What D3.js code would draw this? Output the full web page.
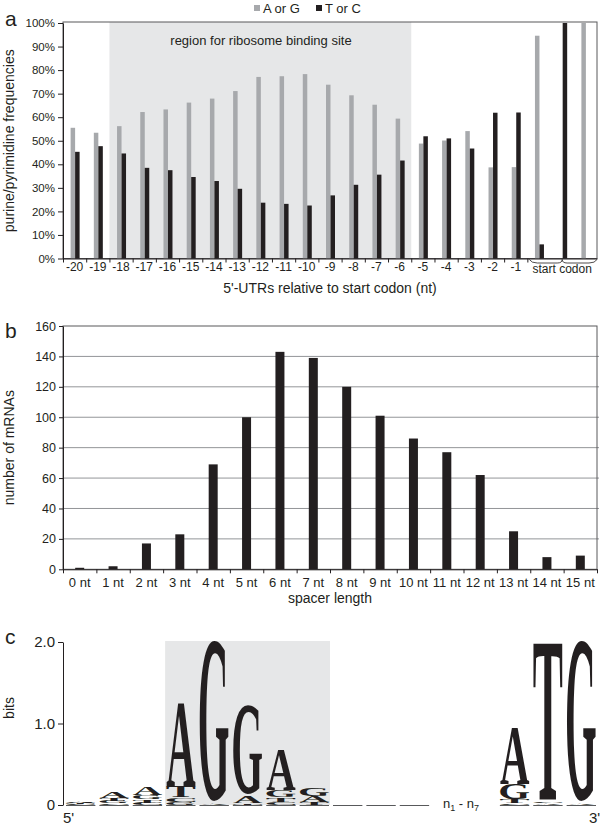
<!DOCTYPE html>
<html>
<head>
<meta charset="utf-8">
<script src="https://cdn.jsdelivr.net/npm/d3@7"></script>
<style>
body{margin:0;background:#fff;}
svg text{font-family:"Liberation Sans",Arial,sans-serif;fill:#231f20;}
</style>
</head>
<body>
<svg id="fig" width="600" height="829"></svg>
<script>
// ---- panel a data: purine / pyrimidine frequencies (%) per position
var positions = ["-20","-19","-18","-17","-16","-15","-14","-13","-12","-11","-10",
  "-9","-8","-7","-6","-5","-4","-3","-2","-1","s1","s2","s3"]
var posLabels = ["-20","-19","-18","-17","-16","-15","-14","-13","-12","-11","-10",
  "-9","-8","-7","-6","-5","-4","-3","-2","-1","","",""]
var purineAG = [55.5,53.4,56.2,62.2,63.3,66.2,67.9,71.1,77.1,77.4,78.3,
  73.8,69.3,65.3,59.4,48.8,50.1,54.1,38.7,38.8,94.6,0,100]
var pyrimidineTC = [45.3,47.7,44.6,38.5,37.5,34.6,32.9,29.6,23.7,23.2,22.5,
  26.8,31.3,35.6,41.6,51.9,51,46.7,61.9,62,6,100,0]
var pctTicks = [0,10,20,30,40,50,60,70,80,90,100]

// ---- panel b data: spacer length distribution
var spacerLengths = ["0 nt","1 nt","2 nt","3 nt","4 nt","5 nt","6 nt","7 nt",
  "8 nt","9 nt","10 nt","11 nt","12 nt","13 nt","14 nt","15 nt"]
var mrnaCounts = [1,2,17,23,69,100,143,139,120,101,86,77,62,25,8,9]
var countTicks = [0,20,40,60,80,100,120,140,160]

// ---- panel c data: sequence logo, letters bottom -> top, heights in bits
var logoColumns = [0,1,2,3,4,5,6,7,8,9,10,11,12,13,14,15]
var logoStacks = [
  [["C",0.01],["T",0.01],["G",0.01],["A",0.02]],
  [["C",0.02],["G",0.03],["T",0.04],["A",0.06]],
  [["C",0.03],["T",0.04],["G",0.05],["A",0.1]],
  [["G",0.04],["C",0.05],["T",0.14],["A",1.02]],
  [["A",0.01],["G",1.98]],
  [["T",0.02],["A",0.09],["G",1.09]],
  [["C",0.04],["T",0.05],["G",0.09],["A",0.5]],
  [["T",0.04],["A",0.07],["G",0.11]],
  [],[],[],null,null,
  [["C",0.02],["T",0.05],["G",0.19],["A",0.68]],
  [["A",0.02],["C",0.02],["T",1.93]],
  [["A",0.01],["G",1.98]]
]
var bitTicks = [0,1,2]

var svg = d3.select("#fig")
var ink = "#231f20", lightGrey = "#a7a9ac", shade = "#e6e7e8"
var left = 63, right = 597

var styleAxis = function(g, size)
{
  g.attr("font-family", "Liberation Sans, Arial, sans-serif")
   .attr("font-size", size)
  g.selectAll("path,line").attr("stroke", ink)
  g.selectAll("text").attr("fill", ink)
}

// ================= panel a =================
var drawPanelA = function()
{
  var top = 23, bottom = 258.5
  var xA = d3.scaleBand().domain(positions).range([left, right])
  var xIdx = d3.scaleLinear().domain([0, positions.length]).range([left, right])
  var yA = d3.scaleLinear().domain([0, 100]).range([bottom, top])

  svg.append("rect")
    .attr("x", xA("-18")).attr("y", top - 1)
    .attr("width", xA("-5") - xA("-18")).attr("height", bottom - top + 1)
    .attr("fill", shade)

  svg.append("rect")
    .attr("x", left).attr("y", top - 1)
    .attr("width", right - left).attr("height", bottom - top + 1)
    .attr("fill", "none").attr("stroke", "#58595b").attr("stroke-width", 1)

  svg.append("text").text("region for ribosome binding site")
    .attr("x", 261).attr("y", 45).attr("text-anchor", "middle")
    .attr("font-size", 13)

  var g = svg.append("g")
  g.selectAll(".ag").data(purineAG).enter().append("rect")
    .attr("x", function(d, i) { return xA(positions[i]) + xA.bandwidth()/2 - 4 })
    .attr("width", 4.5)
    .attr("y", function(d) { return yA(d) })
    .attr("height", function(d) { return bottom - yA(d) })
    .attr("fill", lightGrey)
  g.selectAll(".tc").data(pyrimidineTC).enter().append("rect")
    .attr("x", function(d, i) { return xA(positions[i]) + xA.bandwidth()/2 + 0.5 })
    .attr("width", 4.5)
    .attr("y", function(d) { return yA(d) })
    .attr("height", function(d) { return bottom - yA(d) })
    .attr("fill", ink)

  var ya = svg.append("g")
    .attr("transform", "translate(" + left + ",0)")
    .call(d3.axisLeft(yA).tickValues(pctTicks)
      .tickFormat(function(d) { return d + "%" }).tickSize(5).tickSizeOuter(0))
  styleAxis(ya, 11.5)

  var xt = svg.append("g")
    .attr("transform", "translate(0," + bottom + ")")
    .call(d3.axisBottom(xIdx).tickValues(d3.range(0, 21)).tickSize(4)
      .tickFormat("").tickSizeOuter(0))
  styleAxis(xt, 12)

  var xl = svg.append("g")
    .attr("transform", "translate(0," + bottom + ")")
    .call(d3.axisBottom(xA).tickSize(0)
      .tickFormat(function(d, i) { return posLabels[i] }))
  styleAxis(xl, 12)
  xl.select(".domain").remove()
  xl.selectAll("text").attr("dy", "0.71em").attr("y", 4)

  // brace under the start codon
  var x0 = xA("s1") + 2, x1 = right, xm = xA("s2") + xA.bandwidth()/2
  svg.append("path")
    .attr("d", "M" + x0 + "," + (bottom + 1) + " Q" + (x0 + 2) + "," + (bottom + 4.5) + " " + (x0 + 8) + "," + (bottom + 4.5)
      + " L" + (xm - 5) + "," + (bottom + 4.5) + " Q" + xm + "," + (bottom + 4.5) + " " + xm + "," + (bottom + 1)
      + " Q" + xm + "," + (bottom + 4.5) + " " + (xm + 5) + "," + (bottom + 4.5)
      + " L" + (x1 - 8) + "," + (bottom + 4.5) + " Q" + (x1 - 2) + "," + (bottom + 4.5) + " " + x1 + "," + (bottom + 1))
    .attr("fill", "none").attr("stroke", ink).attr("stroke-width", 0.8)
  svg.append("text").text("start codon")
    .attr("x", xm).attr("y", 272.5).attr("text-anchor", "middle").attr("font-size", 12)

  svg.append("text").text("5'-UTRs relative to start codon (nt)")
    .attr("x", (left + right)/2).attr("y", 293).attr("text-anchor", "middle")
    .attr("font-size", 14)

  svg.append("g").attr("transform", "translate(14," + ((top + bottom)/2) + ")")
    .append("text").text("purine/pyrimidine frequencies")
    .attr("transform", "rotate(-90)").attr("text-anchor", "middle")
    .attr("font-size", 14)

  // legend
  svg.append("rect").attr("x", 254).attr("y", 5).attr("width", 6).attr("height", 6).attr("fill", lightGrey)
  svg.append("text").text("A or G").attr("x", 263).attr("y", 13).attr("font-size", 13)
  svg.append("rect").attr("x", 316).attr("y", 5).attr("width", 6).attr("height", 6).attr("fill", ink)
  svg.append("text").text("T or C").attr("x", 325).attr("y", 13).attr("font-size", 13)

  svg.append("text").text("a").attr("x", 5).attr("y", 26).attr("font-size", 21)
}

// ================= panel b =================
var drawPanelB = function()
{
  var top = 326, bottom = 569.3
  var xB = d3.scaleBand().domain(spacerLengths).range([left, right])
  var xIdx = d3.scaleLinear().domain([0, spacerLengths.length]).range([left, right])
  var yB = d3.scaleLinear().domain([0, 160]).range([bottom, top])

  svg.append("g").selectAll("line").data(countTicks.slice(1, -1)).enter().append("line")
    .attr("x1", left).attr("x2", right + 2)
    .attr("y1", function(d) { return yB(d) }).attr("y2", function(d) { return yB(d) })
    .attr("stroke", "#939598").attr("stroke-width", 1)

  svg.append("rect")
    .attr("x", left).attr("y", top)
    .attr("width", right - left).attr("height", bottom - top)
    .attr("fill", "none").attr("stroke", "#58595b").attr("stroke-width", 1)

  svg.append("g").selectAll("rect").data(mrnaCounts).enter().append("rect")
    .attr("x", function(d, i) { return xB(spacerLengths[i]) + xB.bandwidth()/2 - 4.5 })
    .attr("width", 9)
    .attr("y", function(d) { return yB(d) })
    .attr("height", function(d) { return bottom - yB(d) })
    .attr("fill", ink)

  var ya = svg.append("g")
    .attr("transform", "translate(" + left + ",0)")
    .call(d3.axisLeft(yB).tickValues(countTicks).tickSize(4).tickSizeOuter(0))
  styleAxis(ya, 12.5)

  var xt = svg.append("g")
    .attr("transform", "translate(0," + bottom + ")")
    .call(d3.axisBottom(xIdx).tickValues(d3.range(0, 17)).tickSize(4)
      .tickFormat("").tickSizeOuter(0))
  styleAxis(xt, 12)

  var xl = svg.append("g")
    .attr("transform", "translate(0," + bottom + ")")
    .call(d3.axisBottom(xB).tickSize(0))
  styleAxis(xl, 13)
  xl.select(".domain").remove()
  xl.selectAll("text").attr("dy", "0.71em").attr("y", 8)

  svg.append("text").text("spacer length")
    .attr("x", (left + right)/2).attr("y", 603).attr("text-anchor", "middle")
    .attr("font-size", 14)

  svg.append("g").attr("transform", "translate(14," + ((top + bottom)/2) + ")")
    .append("text").text("number of mRNAs")
    .attr("transform", "rotate(-90)").attr("text-anchor", "middle")
    .attr("font-size", 14)

  svg.append("text").text("b").attr("x", 5).attr("y", 338).attr("font-size", 21)
}

// ================= panel c =================
var drawPanelC = function()
{
  var top = 642, bottom = 805
  var xC = d3.scaleBand().domain(logoColumns).range([left, right])
  var yC = d3.scaleLinear().domain([0, 2]).range([bottom, top])
  var bw = xC.bandwidth()

  svg.append("rect")
    .attr("x", xC(3) + 2).attr("y", top - 1)
    .attr("width", xC(7) + bw - xC(3) - 2).attr("height", bottom - top + 1)
    .attr("fill", shade)

  // baseline strokes under every logo column
  svg.append("g").selectAll("line")
    .data(logoColumns.filter(function(c) { return logoStacks[c] !== null }))
    .enter().append("line")
    .attr("x1", function(c) { return xC(c) + 3 }).attr("x2", function(c) { return xC(c) + bw - 1 })
    .attr("y1", bottom + 0.5).attr("y2", bottom + 0.5)
    .attr("stroke", "#58595b").attr("stroke-width", 1)

  // stretch each glyph to fill its box, using canvas ink metrics
  var ctx = document.createElement("canvas").getContext("2d")
  var fontSpec = "bold 100px 'Liberation Serif'"
  ctx.font = fontSpec
  var letters = svg.append("g")
  logoStacks.forEach(function(stack, c)
  {
    if (!stack) return
    var base = 0
    stack.forEach(function(item)
    {
      var ch = item[0], bits = item[1]
      var yTop = yC(base + bits), h = yC(base) - yTop
      base += bits
      if (h < 0.4) return
      var m = ctx.measureText(ch)
      var l = m.actualBoundingBoxLeft, r = m.actualBoundingBoxRight
      var a = m.actualBoundingBoxAscent, d = m.actualBoundingBoxDescent
      var w = bw - 4
      letters.append("text").text(ch)
        .attr("x", 0).attr("y", 0)
        .style("font", fontSpec)
        .attr("fill", ink)
        .attr("transform", "translate(" + (xC(c) + 3) + "," + yTop + ") scale(" + (w/(l + r)) + "," + (h/(a + d)) + ") translate(" + l + "," + a + ")")
    })
  })

  var ya = svg.append("g")
    .attr("transform", "translate(" + left + ",0)")
    .call(d3.axisLeft(yC).tickValues(bitTicks).tickSize(5).tickSizeOuter(0)
      .tickFormat(function(d) { return d === 0 ? "0" : d3.format(".1f")(d) }))
  styleAxis(ya, 15)

  var n = svg.append("text").attr("x", 461).attr("y", 808).attr("text-anchor", "middle").attr("font-size", 13)
  n.append("tspan").text("n")
  n.append("tspan").text("1").attr("font-size", 9).attr("dy", 3)
  n.append("tspan").text(" - n").attr("dy", -3)
  n.append("tspan").text("7").attr("font-size", 9).attr("dy", 3)

  svg.append("text").text("5'").attr("x", 63).attr("y", 823).attr("font-size", 15)
  svg.append("text").text("3'").attr("x", 589).attr("y", 823).attr("font-size", 15)

  svg.append("g").attr("transform", "translate(14,708)")
    .append("text").text("bits")
    .attr("transform", "rotate(-90)").attr("text-anchor", "middle")
    .attr("font-size", 14)

  svg.append("text").text("c").attr("x", 5).attr("y", 644).attr("font-size", 21)
}

drawPanelA()
drawPanelB()
drawPanelC()
</script>
</body>
</html>
